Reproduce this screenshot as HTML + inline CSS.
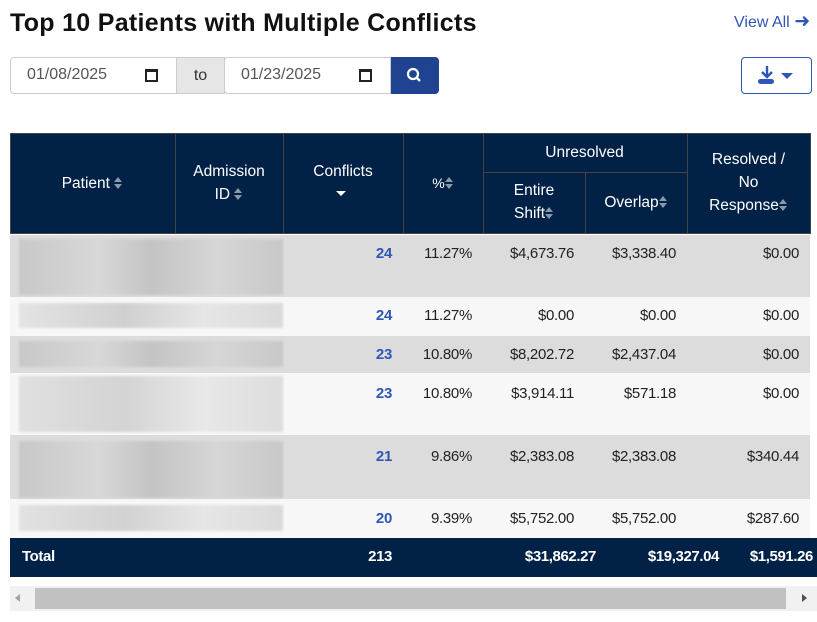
<!DOCTYPE html>
<html><head><style>
*{box-sizing:border-box;margin:0;padding:0}
body{width:817px;height:622px;background:#fff;font-family:"Liberation Sans","DejaVu Sans",sans-serif;position:relative;overflow:hidden;color:#222}
.a{position:absolute}
h1{position:absolute;left:10px;top:9px;font-size:25px;font-weight:bold;color:#111;letter-spacing:0.3px}
.inp{position:absolute;top:57px;height:37px;border:1px solid #ccc;background:#fff;font-size:16px;color:#555;padding:8px 0 0 16px}
.cal{position:absolute;right:18px;top:11px;width:13px;height:13px;border:2px solid #222;border-top-width:3px}
.hd{position:absolute;top:133px;height:101px;background:#012246;border:1px solid #444}
.th{position:absolute;color:#fff;font-size:15.5px;text-align:center;line-height:23px}
.s{display:inline-block;width:9px;height:12px;vertical-align:-1px;position:relative}
.s:before{content:"";position:absolute;left:0;top:0;border:4.5px solid transparent;border-bottom:5px solid #8a99aa;border-top:0}
.s:after{content:"";position:absolute;left:0;top:7px;border:4.5px solid transparent;border-top:5px solid #8a99aa;border-bottom:0}
.row{position:absolute;left:10px;width:800px}
.c{position:absolute;font-size:15px;text-align:right;letter-spacing:-0.3px}
.blob{position:absolute;background:linear-gradient(90deg,#c8c8c8,#d8d8d8 30%,#c4c4c4 50%,#d6d6d6 75%,#c8c8c8);filter:blur(1px)}
.tot{position:absolute;color:#fff;font-weight:bold;font-size:15px;top:548px;letter-spacing:-0.4px}
</style></head><body>
<h1>Top 10 Patients with Multiple Conflicts</h1>
<div class="a" style="left:734px;top:10px;color:#2f55b5;font-size:16px">View All <span style="font-size:19px">&#10140;</span></div>
<div class="inp" style="left:10px;width:167px;border-radius:4px 0 0 4px">01/08/2025<div class="cal"></div></div>
<div class="a" style="left:176px;top:57px;width:49px;height:37px;background:#e6e6e6;border:1px solid #ccc;font-size:16px;color:#333;text-align:center;padding-top:9px">to</div>
<div class="inp" style="left:224px;width:167px;border-radius:4px 0 0 4px">01/23/2025<div class="cal"></div></div>
<div class="a" style="left:391px;top:57px;width:48px;height:37px;background:#1f4390;border-radius:0 4px 4px 0">
<svg width="48" height="37"><circle cx="22" cy="17" r="5" fill="none" stroke="#fff" stroke-width="2.2"/><line x1="26" y1="21" x2="29" y2="24" stroke="#fff" stroke-width="2.4"/></svg></div>
<div class="a" style="left:741px;top:57px;width:71px;height:37px;border:1px solid #2f55b5;border-radius:4px">
<svg width="70" height="35"><path d="M25 8v11M20 14l5 5 5-5" stroke="#2f55b5" stroke-width="2.4" fill="none"/><rect x="16" y="21" width="16" height="5" rx="2.5" fill="#2f55b5"/><path d="M39 15h12l-6 6z" fill="#2f55b5"/></svg></div>

<div class="hd" style="left:10px;width:801px"></div>
<div class="a" style="left:175px;top:134px;width:1px;height:100px;background:#444"></div>
<div class="a" style="left:283px;top:134px;width:1px;height:100px;background:#444"></div>
<div class="a" style="left:403px;top:134px;width:1px;height:100px;background:#444"></div>
<div class="a" style="left:483px;top:134px;width:1px;height:100px;background:#444"></div>
<div class="a" style="left:585px;top:172px;width:1px;height:62px;background:#444"></div>
<div class="a" style="left:687px;top:134px;width:1px;height:100px;background:#444"></div>
<div class="a" style="left:484px;top:172px;width:203px;height:1px;background:#444"></div>
<div class="th" style="left:10px;width:165px;top:172px">Patient <span class="s"></span></div>
<div class="th" style="left:175px;width:108px;top:160px">Admission<br>ID <span class="s"></span></div>
<div class="th" style="left:283px;width:120px;top:160px">Conflicts<br><span style="display:inline-block;border:5px solid transparent;border-top:5px solid #fff;vertical-align:-2px;margin-left:-4px"></span></div>
<div class="th" style="left:403px;width:80px;top:172px;font-size:14px">%<span class="s"></span></div>
<div class="th" style="left:483px;width:203px;top:141px">Unresolved</div>
<div class="th" style="left:483px;width:102px;top:179px">Entire<br>Shift<span class="s"></span></div>
<div class="th" style="left:585px;width:102px;top:191px">Overlap<span class="s"></span></div>
<div class="th" style="left:687px;width:123px;top:148px">Resolved /<br>No<br>Response<span class="s"></span></div>

<div class="row" style="top:235px;height:62px;background:#dcdcdc"></div>
<div class="row" style="top:297px;height:39px;background:#f7f7f7"></div>
<div class="row" style="top:336px;height:37px;background:#dcdcdc"></div>
<div class="row" style="top:373px;height:62px;background:#f7f7f7"></div>
<div class="row" style="top:435px;height:64px;background:#dcdcdc"></div>
<div class="row" style="top:499px;height:39px;background:#f7f7f7"></div>

<div class="blob" style="left:19px;top:239px;width:264px;height:56px"></div>
<div class="blob" style="left:19px;top:303px;width:264px;height:25px;background:linear-gradient(90deg,#e4e4e4,#d0d0d0 40%,#e6e6e6 70%,#dadada)"></div>
<div class="blob" style="left:19px;top:341px;width:264px;height:26px"></div>
<div class="blob" style="left:19px;top:376px;width:264px;height:56px;background:linear-gradient(90deg,#e0e0e0,#d4d4d4 40%,#e8e8e8 70%,#dddddd)"></div>
<div class="blob" style="left:19px;top:441px;width:264px;height:57px"></div>
<div class="blob" style="left:19px;top:505px;width:264px;height:26px;background:linear-gradient(90deg,#e2e2e2,#d2d2d2 40%,#e6e6e6 70%,#dadada)"></div>

<div id="d"></div>
<script>
var rows=[[245,"24","11.27%","$4,673.76","$3,338.40","$0.00"],[307,"24","11.27%","$0.00","$0.00","$0.00"],[346,"23","10.80%","$8,202.72","$2,437.04","$0.00"],[385,"23","10.80%","$3,914.11","$571.18","$0.00"],[448,"21","9.86%","$2,383.08","$2,383.08","$340.44"],[510,"20","9.39%","$5,752.00","$5,752.00","$287.60"]];
var rt=[392,472,574,676,799],h="";
rows.forEach(function(r){for(var i=0;i<5;i++){h+='<div class="c" style="top:'+r[0]+'px;right:'+(817-rt[i])+'px;'+(i==0?'color:#2f55b5;font-weight:bold':'')+'">'+r[i+1]+'</div>';}});
document.getElementById('d').innerHTML=h;
</script>

<div class="a" style="left:10px;top:538px;width:807px;height:39px;background:#012246"></div>
<div class="tot" style="left:22px">Total</div>
<div class="tot" style="right:425px">213</div>
<div class="tot" style="right:221px">$31,862.27</div>
<div class="tot" style="right:98px">$19,327.04</div>
<div class="tot" style="right:4px">$1,591.26</div>

<div class="a" style="left:10px;top:586px;width:807px;height:25px;background:#f1f1f1"></div>
<div class="a" style="left:35px;top:588px;width:751px;height:21px;background:#c1c1c1"></div>
<div class="a" style="left:15px;top:594px;border:4px solid transparent;border-right:5px solid #a3a3a3;border-left:0"></div>
<div class="a" style="left:802px;top:594px;border:4px solid transparent;border-left:5px solid #505050;border-right:0"></div>
</body></html>
